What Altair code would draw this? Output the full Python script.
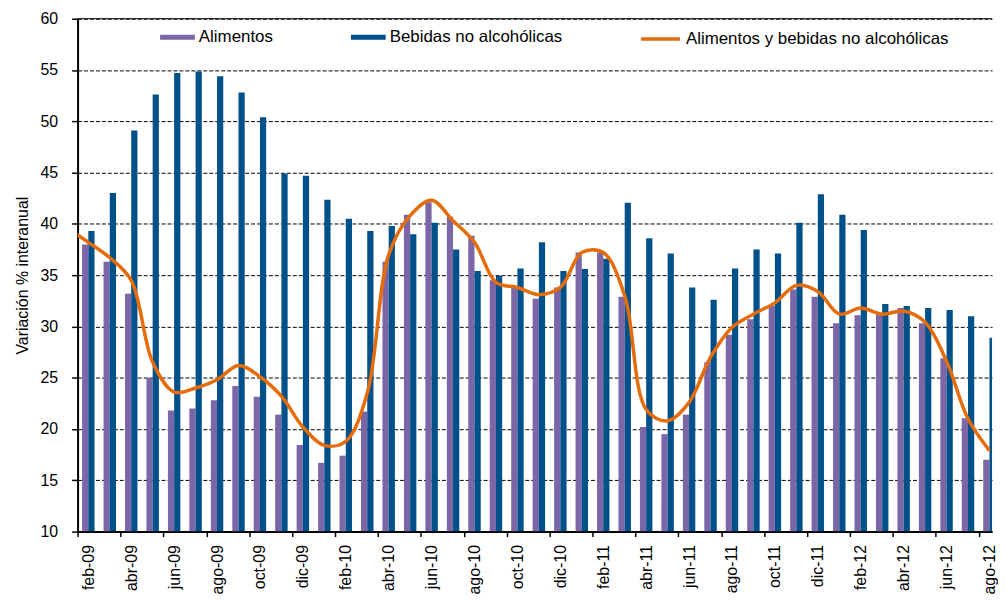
import altair as alt
import pandas as pd

# ---------------- data ----------------
MONTHS = ['feb-09', 'mar-09', 'abr-09', 'may-09', 'jun-09', 'jul-09', 'ago-09', 'sep-09', 'oct-09', 'nov-09', 'dic-09',
          'ene-10', 'feb-10', 'mar-10', 'abr-10', 'may-10', 'jun-10', 'jul-10', 'ago-10', 'sep-10', 'oct-10', 'nov-10', 'dic-10',
          'ene-11', 'feb-11', 'mar-11', 'abr-11', 'may-11', 'jun-11', 'jul-11', 'ago-11', 'sep-11', 'oct-11', 'nov-11', 'dic-11',
          'ene-12', 'feb-12', 'mar-12', 'abr-12', 'may-12', 'jun-12', 'jul-12', 'ago-12']

ALIMENTOS = [38.0, 36.3, 33.2, 25.0, 21.8, 22.0, 22.8, 24.2, 23.15, 21.4, 18.45,
             16.7, 17.4, 21.7, 36.3, 40.9, 42.1, 40.7, 38.85, 34.5, 33.8, 32.7, 33.8,
             37.2, 37.2, 32.9, 20.2, 19.5, 21.4, 26.5, 29.2, 30.7, 32.0, 33.6, 32.9,
             30.3, 31.1, 31.2, 31.8, 30.3, 26.9, 21.05, 17.0]

BEBIDAS = [39.3, 43.0, 49.1, 52.6, 54.7, 54.85, 54.4, 52.8, 50.4, 44.9, 44.7,
           42.36, 40.5, 39.3, 39.8, 39.0, 40.1, 37.5, 35.4, 34.95, 35.66, 38.2, 35.4,
           35.6, 36.6, 42.07, 38.6, 37.1, 33.8, 32.6, 35.66, 37.5, 37.1, 40.1, 42.9,
           40.9, 39.4, 32.2, 32.0, 31.8, 31.6, 31.0, 28.9]

# combined series (smoothed line); it enters the plot from the left edge,
# so its preceding month (ene-09) is included and clipped away.
LINE_MONTHS = ['ene-09'] + MONTHS
COMBINADO = [39.6,
             38.2, 36.7, 34.5, 26.5, 23.6, 24.0, 24.8, 26.2, 25.1, 23.2, 20.2,
             18.4, 18.8, 23.5, 37.0, 40.8, 42.3, 40.3, 38.2, 34.3, 33.8, 33.1, 33.8,
             37.2, 37.2, 33.0, 21.9, 20.8, 22.6, 27.0, 29.9, 31.2, 32.3, 34.0, 33.4,
             31.2, 31.8, 31.2, 31.5, 30.4, 26.6, 21.0, 17.9]

SERIES = ['Alimentos', 'Bebidas no alcohólicas']
LINE_NAME = 'Alimentos y bebidas no alcohólicas'
Y_TICKS = [10, 15, 20, 25, 30, 35, 40, 45, 50, 55, 60]
Y_MIN, Y_MAX = 10, 60

# ---------------- styling ----------------
FONT = 'Liberation Sans'
PURPLE = '#7B66A8'
BLUE = '#00508A'
ORANGE = '#E46C0A'

n = len(MONTHS)
bars = pd.DataFrame({
    'mes': MONTHS * 2,
    'idx': list(range(n)) * 2,
    'serie': [SERIES[0]] * n + [SERIES[1]] * n,
    'valor': ALIMENTOS + BEBIDAS,
})
line = pd.DataFrame({
    'mes': LINE_MONTHS,
    'idx': list(range(-1, n)),
    'serie': [LINE_NAME] * len(LINE_MONTHS),
    'valor': COMBINADO,
})
border = pd.DataFrame({'y': [Y_MAX]})

X_MAX = 42.62
tick_vals = []
for i in range(0, n, 2):
    tick_vals += [i, i + 0.5]
label_arr = '[' + ','.join("'" + m + "'" for m in MONTHS) + ']'
label_expr = "datum.value % 1 === 0 ? '' : " + label_arr + "[floor(datum.value)]"

x_scale = alt.Scale(domain=[0, X_MAX], nice=False, zero=False)
y_scale = alt.Scale(domain=[Y_MIN, Y_MAX], nice=False, zero=False)

x_axis = alt.Axis(
    values=tick_vals, labelExpr=label_expr, title=None, grid=False,
    labelAngle=270, labelAlign='right', labelBaseline='middle',
    labelFontSize=16, labelPadding=8, labelOverlap=False, labelFlush=False,
    tickSize=5, tickWidth=1.5, tickColor='black',
    tickOpacity={'condition': {'test': 'datum.value % 1 === 0', 'value': 1}, 'value': 0},
    domainColor='black', domainWidth=2,
)
y_axis = alt.Axis(
    values=Y_TICKS, title='Variación  % interanual', grid=True,
    gridColor='black', gridDash=[4, 2], gridWidth=1,
    tickSize=6, tickWidth=1.5, tickColor='black',
    labelFontSize=16, labelPadding=14,
    titleFontSize=16, titleFontWeight='normal', titlePadding=10,
    domainColor='black', domainWidth=2,
)

RECT_PATH = 'M-1,-0.143H1V0.143H-1Z'

bar_chart = alt.Chart(bars).transform_calculate(
    x0="datum.idx + (datum.serie == 'Alimentos' ? 0.21 : 0.5)",
    x1="datum.idx + (datum.serie == 'Alimentos' ? 0.5 : 0.79)",
).mark_bar(clip=True).encode(
    x=alt.X('x0:Q', scale=x_scale, axis=x_axis),
    x2='x1:Q',
    y=alt.Y('valor:Q', scale=y_scale, axis=y_axis),
    y2=alt.datum(Y_MIN),
    color=alt.Color('serie:N', scale=alt.Scale(domain=SERIES, range=[PURPLE, BLUE]),
                    legend=alt.Legend(orient='none', legendX=83, legendY=1, direction='horizontal',
                                      title=None, symbolType=RECT_PATH, symbolSize=1225,
                                      symbolStrokeWidth=0, symbolOpacity=1, labelFontSize=17,
                                      labelLimit=500, labelOffset=4, columnPadding=78, padding=0)),
)

line_chart = alt.Chart(line).transform_calculate(
    xc='datum.idx + 0.5'
).mark_line(interpolate='catmull-rom', strokeWidth=3.5, clip=True).encode(
    x=alt.X('xc:Q', scale=x_scale, axis=x_axis),
    y=alt.Y('valor:Q', scale=y_scale, axis=y_axis),
    stroke=alt.Stroke('serie:N', scale=alt.Scale(domain=[LINE_NAME], range=[ORANGE]),
                      legend=alt.Legend(orient='none', legendX=565, legendY=-1, direction='horizontal',
                                        title=None, symbolType='stroke', symbolSize=1521,
                                        symbolStrokeWidth=3.5, labelFontSize=17, labelLimit=500,
                                        labelOffset=4, padding=0)),
)

top_rule = alt.Chart(border).mark_rule(color='black', strokeWidth=1).encode(
    y=alt.Y('y:Q', scale=y_scale, axis=y_axis)
)

chart = alt.layer(top_rule, bar_chart, line_chart).properties(
    width=920, height=516,
    padding={'left': 6, 'top': 1, 'right': 0, 'bottom': 0},
).configure_view(stroke=None).configure_axis(
    labelFont=FONT, titleFont=FONT, labelColor='black', titleColor='black'
).configure_legend(labelFont=FONT, labelColor='black')

chart.save('out.html', embed_options={'renderer': 'svg', 'actions': False})
